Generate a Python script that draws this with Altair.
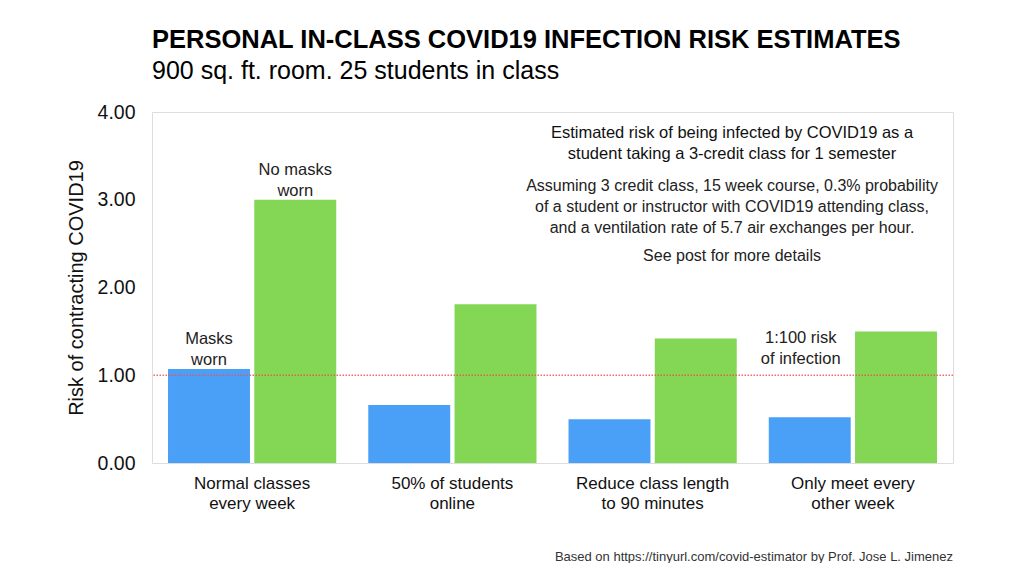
import altair as alt
import pandas as pd

categories = ["Normal classes|every week", "50% of students|online",
              "Reduce class length|to 90 minutes", "Only meet every|other week"]
masks_worn = [1.07, 0.66, 0.50, 0.52]
no_masks = [3.00, 1.81, 1.42, 1.50]
groups = ["Masks worn", "No masks worn"]
colors = ["#4A9FF6", "#84D655"]
threshold = 1.0

rows = []
for c, a, b in zip(categories, masks_worn, no_masks):
    rows.append({"cat": c, "grp": groups[0], "val": a})
    rows.append({"cat": c, "grp": groups[1], "val": b})
df = pd.DataFrame(rows)

FONT = "Liberation Sans"
W, H = 801, 351

x = alt.X("cat:N", sort=categories, title=None,
          scale=alt.Scale(paddingInner=0.16, paddingOuter=0.08),
          axis=alt.Axis(labelExpr="split(datum.label, '|')", labelFontSize=17,
                        labelFont=FONT, labelColor="#111", labelAngle=0,
                        ticks=False, domain=False, labelPadding=12,
                        labelLineHeight=20))
xo = alt.XOffset("grp:N", sort=groups, scale=alt.Scale(paddingInner=0.05))
y = alt.Y("val:Q", title="Risk of contracting COVID19",
          scale=alt.Scale(domain=[0, 4], nice=False),
          axis=alt.Axis(values=[0, 1, 2, 3, 4], format=".2f", grid=False,
                        ticks=False, domain=False, labelFontSize=19.5, labelFont=FONT,
                        labelColor="#111", labelPadding=17, titleFontSize=20,
                        titleFont=FONT, titleFontWeight="normal", titleColor="#111",
                        titlePadding=11))

bars = alt.Chart(df).mark_bar().encode(
    x=x, xOffset=xo, y=y,
    color=alt.Color("grp:N", scale=alt.Scale(domain=groups, range=colors), legend=None),
)

rule = alt.Chart(pd.DataFrame({"t": [threshold]})).mark_rule(
    color="#F25050", strokeDash=[1.5, 1.5], strokeWidth=1.3, opacity=0.85).encode(y="t:Q")

lab_df = pd.DataFrame([
    {"cat": categories[0], "grp": groups[0], "v": masks_worn[0], "txt": ["Masks", "worn"]},
    {"cat": categories[0], "grp": groups[1], "v": no_masks[0], "txt": ["No masks", "worn"]},
])
labels = alt.Chart(lab_df).mark_text(fontSize=16.5, font=FONT, color="#222",
                                     baseline="middle", dy=-30, lineHeight=21).encode(
    x=alt.X("cat:N", sort=categories), xOffset=alt.XOffset("grp:N", sort=groups),
    y="v:Q", text="txt")

risk_df = pd.DataFrame([{"cat": categories[3], "grp": groups[0], "v": threshold,
                         "txt": ["1:100 risk", "of infection"]}])
risk = alt.Chart(risk_df).mark_text(fontSize=16.5, font=FONT, color="#222",
                                    baseline="middle", dy=-37, dx=-9, lineHeight=21).encode(
    x=alt.X("cat:N", sort=categories), xOffset=alt.XOffset("grp:N", sort=groups),
    y="v:Q", text="txt")

note_head = alt.Chart(pd.DataFrame({"v": [3.76],
    "txt": [["Estimated risk of being infected by COVID19 as a",
             "student taking a 3-credit class for 1 semester"]]})).mark_text(
    fontSize=16.5, font=FONT, fontWeight=500, color="#111", baseline="middle",
    lineHeight=21).encode(x=alt.value(580), y="v:Q", text="txt")

note_body = alt.Chart(pd.DataFrame({"v": [3.16],
    "txt": [["Assuming 3 credit class, 15 week course, 0.3% probability",
             "of a student or instructor with COVID19 attending class,",
             "and a ventilation rate of 5.7 air exchanges per hour."]]})).mark_text(
    fontSize=16, font=FONT, color="#222", baseline="middle", lineHeight=21).encode(
    x=alt.value(580), y="v:Q", text="txt")

note_see = alt.Chart(pd.DataFrame({"v": [2.36], "txt": ["See post for more details"]})).mark_text(
    fontSize=16, font=FONT, color="#222", baseline="middle").encode(
    x=alt.value(580), y="v:Q", text="txt")

footer = alt.Chart(pd.DataFrame({"txt": ["Based on https://tinyurl.com/covid-estimator by Prof. Jose L. Jimenez"]})).mark_text(
    fontSize=13, font=FONT, color="#333", align="right", baseline="middle").encode(
    x=alt.value(W), y=alt.value(445), text="txt")

chart = alt.layer(bars, rule, labels, risk, note_head, note_body, note_see, footer).properties(
    width=W, height=H,
    title=alt.TitleParams(
        "PERSONAL IN-CLASS COVID19 INFECTION RISK ESTIMATES",
        subtitle="900 sq. ft. room. 25 students in class",
        anchor="start", frame="group", font=FONT, fontSize=25.5, fontWeight="bold",
        color="#000", subtitleFont=FONT, subtitleFontSize=25, subtitleColor="#000",
        subtitlePadding=6, offset=18),
    autosize=alt.AutoSizeParams(type="none"),
    padding={"left": 144, "top": 104, "right": 60, "bottom": 100},
).configure_view(stroke="#8a8a8a", strokeWidth=1.5).configure(background="white")

chart.save("out.html", embed_options={"renderer": "svg", "actions": False})
